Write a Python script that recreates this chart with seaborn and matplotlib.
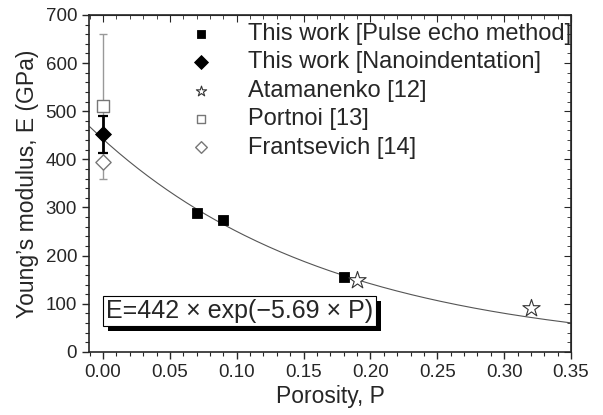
import numpy as np
import pandas as pd
import matplotlib
matplotlib.use('Agg')
import matplotlib.pyplot as plt
import matplotlib.patheffects as pe
from matplotlib.ticker import MultipleLocator
import seaborn as sns

# data
pulse_p = [0.07, 0.09, 0.18]
pulse_e = [288, 275, 156]
nano_p = [0.0]
nano_e = [452]
nano_err = [38]
atam_p = [0.19, 0.32]
atam_e = [150, 92]
portnoi_p = [0.0]
portnoi_e = [510]
portnoi_err = [150]
frant_p = [0.0]
frant_e = [394]
fit_a = 442
fit_b = -5.69

sns.set_style('ticks')
plt.rcParams['font.family'] = ['Liberation Sans', 'DejaVu Sans']

fig = plt.figure(figsize=(6.03, 4.15), dpi=100)
ax = fig.add_axes([0.1476, 0.152, 0.7994, 0.812])

# fit curve
p_fit = np.linspace(-0.01, 0.35, 200)
fit_df = pd.DataFrame({'P': p_fit, 'E': fit_a * np.exp(fit_b * p_fit)})
sns.lineplot(data=fit_df, x='P', y='E', color='#555555', lw=0.8, ax=ax, zorder=1)

# error bars
ax.errorbar(portnoi_p, portnoi_e, yerr=portnoi_err, fmt='none', ecolor='#999999',
            elinewidth=1.0, capsize=3, zorder=2)
ax.errorbar(nano_p, nano_e, yerr=nano_err, fmt='none', ecolor='black',
            elinewidth=2.0, capsize=3.5, capthick=1.6, zorder=3)

sns.scatterplot(x=pulse_p, y=pulse_e, marker='s', s=55, color='black',
                edgecolor='black', label='This work [Pulse echo method]', ax=ax, zorder=4)
sns.scatterplot(x=nano_p, y=nano_e, marker='D', s=65, color='black',
                edgecolor='black', label='This work [Nanoindentation]', ax=ax, zorder=4)
sns.scatterplot(x=atam_p, y=atam_e, marker='*', s=170, color='white',
                edgecolor='#333333', linewidth=0.8, label='Atamanenko [12]', ax=ax, zorder=4)
sns.scatterplot(x=portnoi_p, y=portnoi_e, marker='s', s=70, color='white',
                edgecolor='#777777', linewidth=1.0, label='Portnoi [13]', ax=ax, zorder=4)
sns.scatterplot(x=frant_p, y=frant_e, marker='D', s=60, color='white',
                edgecolor='#777777', linewidth=1.0, label='Frantsevich [14]', ax=ax, zorder=4)

ax.set_xlim(-0.0105, 0.35)
ax.set_ylim(0, 700)
ax.xaxis.set_major_locator(MultipleLocator(0.05))
ax.xaxis.set_minor_locator(MultipleLocator(0.01))
ax.yaxis.set_major_locator(MultipleLocator(100))
ax.yaxis.set_minor_locator(MultipleLocator(20))
ax.set_xticks(np.arange(0, 0.351, 0.05))
ax.set_xticklabels([f'{v:.2f}' for v in np.arange(0, 0.351, 0.05)])
ax.tick_params(which='major', direction='out', length=5, width=1, labelsize=13.5)
ax.tick_params(which='minor', direction='out', length=3, width=0.8)
for s in ax.spines.values():
    s.set_linewidth(1.2)
    s.set_visible(True)

# mirrored inward ticks on top and right
top = ax.secondary_xaxis('top')
top.xaxis.set_major_locator(MultipleLocator(0.05))
top.xaxis.set_minor_locator(MultipleLocator(0.01))
top.tick_params(which='major', direction='in', length=5, labeltop=False)
top.tick_params(which='minor', direction='in', length=3)
right = ax.secondary_yaxis('right')
right.yaxis.set_major_locator(MultipleLocator(100))
right.yaxis.set_minor_locator(MultipleLocator(20))
right.tick_params(which='major', direction='in', length=5, labelright=False)
right.tick_params(which='minor', direction='in', length=3)

ax.set_xlabel('Porosity, P', fontsize=16.5, labelpad=3)
ax.set_ylabel('Young’s modulus, E (GPa)', fontsize=16.5, labelpad=5)

leg = ax.legend(loc='upper right', bbox_to_anchor=(1.035, 1.025), frameon=False,
                fontsize=17, handletextpad=1.2, handlelength=1.6,
                labelspacing=0.27, borderaxespad=0.3)
for h, sz in zip(leg.legend_handles, [35, 50, 60, 35, 35]):
    h.set_sizes([sz])

t = ax.text(0.002, 86, 'E=442 × exp(−5.69 × P)', fontsize=18, ha='left', va='center',
            bbox=dict(boxstyle='square,pad=0.12', fc='white', ec='black', lw=0.8), zorder=5)
t.get_bbox_patch().set_path_effects([
    pe.SimplePatchShadow(offset=(4, -4), shadow_rgbFace='black', alpha=1.0),
    pe.Normal()])

fig.savefig('out.png', dpi=100)
